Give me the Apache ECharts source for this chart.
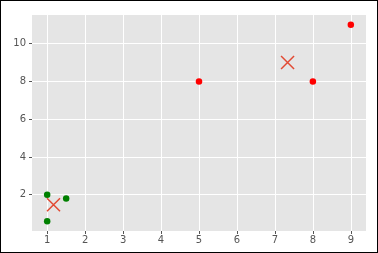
<!DOCTYPE html>
<html><head><meta charset="utf-8">
<script src="https://cdn.jsdelivr.net/npm/echarts@6/dist/echarts.min.js"></script>
<style>html,body{margin:0;padding:0;background:#fff}#c{width:378px;height:253px}</style>
</head><body><div id="c"></div>
<script>
var greenPoints = [[1, 2], [1, 0.6], [1.5, 1.8]];
var redPoints = [[5, 8], [8, 8], [9, 11]];
var centroids = [[1.1667, 1.4667], [7.3333, 9]];
var xTicks = [1, 2, 3, 4, 5, 6, 7, 8, 9];
var yTicks = [2, 4, 6, 8, 10];

var chart = echarts.init(document.getElementById('c'), null, {renderer: 'canvas'});
var labelStyle = {color: '#555555', fontSize: 10, fontFamily: 'DejaVu Sans'};
chart.setOption({
  animation: false,
  backgroundColor: '#ffffff',
  grid: {left: 32, right: 12, top: 15, bottom: 22, show: true, backgroundColor: '#E5E5E5', borderWidth: 0},
  xAxis: {
    type: 'value', min: 0.6, max: 9.4,
    axisLine: {show: false},
    axisTick: {show: true, length: 3, lineStyle: {color: '#555555'}, customValues: xTicks},
    axisLabel: {show: true, margin: 4, customValues: xTicks, ...labelStyle},
    splitLine: {show: false}
  },
  yAxis: {
    type: 'value', min: 0.08, max: 11.52,
    axisLine: {show: false},
    axisTick: {show: true, length: 3, lineStyle: {color: '#555555'}, customValues: yTicks},
    axisLabel: {show: true, margin: 6, customValues: yTicks, ...labelStyle},
    splitLine: {show: false}
  },
  graphic: [{type: 'rect', shape: {x: 0, y: 0, width: 378, height: 253}, style: {fill: 'none', stroke: '#000', lineWidth: 2}, z: 100}],
  series: [
    {
      type: 'line', data: [], silent: true, z: 0, zlevel: 0,
      markLine: {
        silent: true, symbol: 'none', animation: false, label: {show: false}, z: 0,
        lineStyle: {color: '#ffffff', width: 1, type: 'solid'},
        data: xTicks.map(function (v) { return {xAxis: v}; }).concat(yTicks.map(function (v) { return {yAxis: v}; }))
      }
    },
    {type: 'scatter', data: greenPoints, symbolSize: 6.5, itemStyle: {color: '#008000', opacity: 1}, z: 5},
    {type: 'scatter', data: redPoints, symbolSize: 6.5, itemStyle: {color: '#ff0000', opacity: 1}, z: 5},
    {type: 'scatter', data: centroids, symbol: 'path://M0,0L10,10M10,0L0,10', symbolSize: 13,
     itemStyle: {color: 'none', borderColor: '#E24A33', borderWidth: 1.5, opacity: 1}, z: 6}
  ]
});
</script></body></html>
